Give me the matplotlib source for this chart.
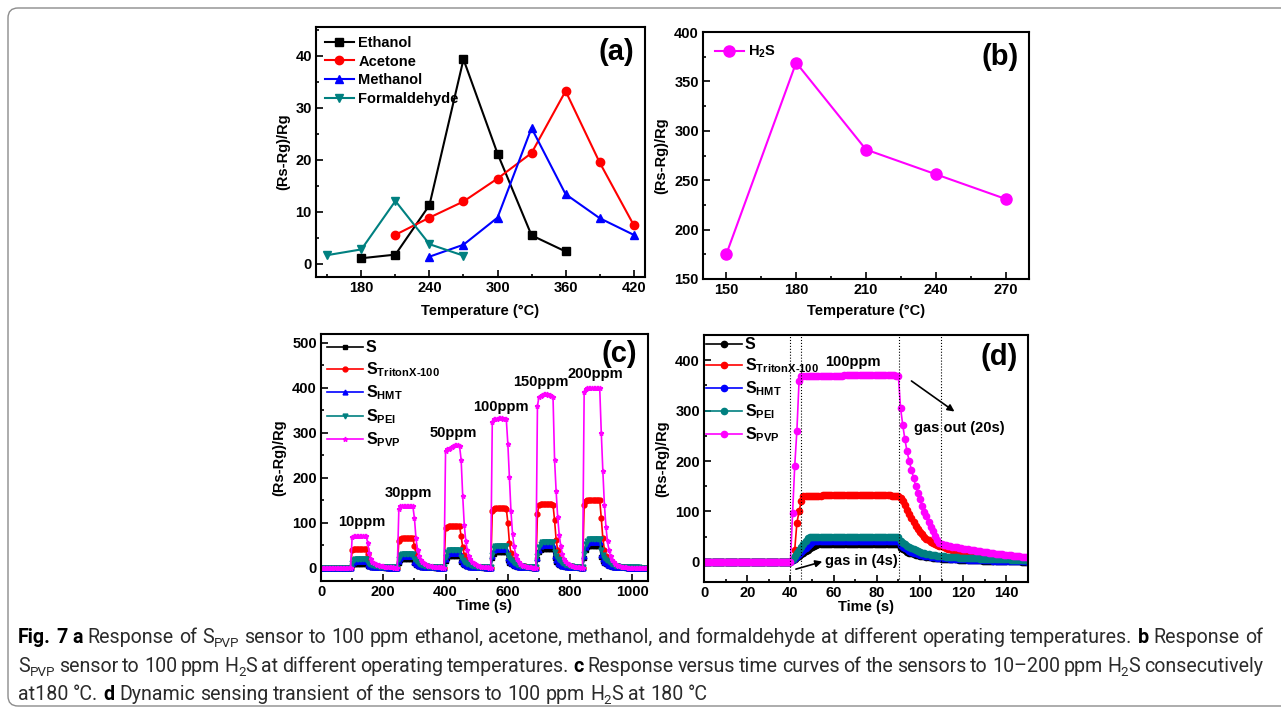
import numpy as np
import matplotlib
matplotlib.use("Agg")
import matplotlib.pyplot as plt
from matplotlib.patches import FancyBboxPatch
from matplotlib.ticker import MultipleLocator

# ---------------- data ----------------
# (a) response vs operating temperature
temp_ethanol = [180, 210, 240, 270, 300, 330, 360]
ethanol = [1.1, 1.8, 11.3, 39.3, 21.2, 5.5, 2.4]
temp_acetone = [210, 240, 270, 300, 330, 360, 390, 420]
acetone = [5.6, 8.9, 12.0, 16.4, 21.3, 33.2, 19.5, 7.5]
temp_methanol = [240, 270, 300, 330, 360, 390, 420]
methanol = [1.4, 3.7, 8.9, 26.1, 13.4, 8.8, 5.6]
temp_formaldehyde = [150, 180, 210, 240, 270]
formaldehyde = [1.7, 2.8, 12.1, 3.8, 1.6]

# (b) H2S response vs temperature
temp_h2s = [150, 180, 210, 240, 270]
h2s = [175, 369, 281, 256, 231]

# (c) response vs time, 10-200 ppm H2S (sampled every 5 s)
time_c = np.arange(0, 1051, 5)
ppm_labels = ["10ppm", "30ppm", "50ppm", "100ppm", "150ppm", "200ppm"]
ppm_label_x = [131, 280, 425, 579, 706, 880]
ppm_label_y = [102, 167, 299, 357, 414, 430]

pvp_c = ([0] * 20
         + [68, 70, 70, 70, 70, 70, 70, 70, 70, 70]
         + [55, 32, 18, 13, 10, 8, 6, 5, 4, 3, 2.5, 2, 1.5, 1, 1, 0.5, 0.5, 0, 0, 0]
         + [130, 137, 138, 138, 138, 138, 138, 138, 137, 136]
         + [110, 65, 38, 25, 17, 12, 9, 7, 5, 4, 3, 2.5, 2, 1.5, 1, 1, 0.5, 0.5, 0, 0]
         + [260, 263, 265, 267, 269, 271, 272, 273, 272, 270]
         + [240, 160, 95, 58, 38, 26, 18, 13, 10, 7, 5, 4, 3, 2, 1.5, 1, 1, 0.5, 0, 0]
         + [325, 330, 331, 331, 332, 332, 332, 331, 331, 330]
         + [275, 202, 125, 75, 48, 28, 18, 12, 8, 6, 4, 3, 2, 1.5, 1, 0.5, 0, 0, 0]
         + [360, 380, 383, 385, 386, 386, 386, 385, 384, 382, 380]
         + [240, 170, 112, 72, 48, 30, 20, 14, 9, 7, 5, 4, 3, 2, 1.5, 1, 0.5, 0, 0]
         + [390, 398, 399, 399, 399, 399, 399, 399, 399, 399, 399]
         + [300, 215, 140, 90, 58, 38, 25, 17, 12, 8, 6, 4, 3, 2, 1.5, 1, 0.5] + [0] * 14)

triton_c = ([0] * 20
            + [38, 42, 42, 42, 42, 42, 42, 42, 42, 42]
            + [30, 18, 11, 7, 5, 4, 3, 2, 1.5, 1, 1, 0.5, 0.5] + [0] * 7
            + [60, 64, 65, 65, 66, 66, 66, 66, 66, 65]
            + [48, 30, 19, 13, 9, 6, 5, 4, 3, 2, 1.5, 1, 1, 0.5, 0.5] + [0] * 5
            + [88, 91, 92, 92, 93, 93, 93, 93, 92, 92]
            + [70, 45, 28, 18, 12, 8, 6, 4.5, 3.5, 2.5, 2, 1.5, 1, 1, 0.5, 0.5] + [0] * 4
            + [125, 131, 132, 133, 133, 133, 133, 132, 132, 131]
            + [100, 55, 32, 20, 14, 10, 8, 6, 5, 4, 3, 2.5, 2, 1.5, 1, 1, 0.5, 0, 0]
            + [120, 140, 141, 142, 142, 142, 142, 142, 142, 141, 140]
            + [105, 62, 38, 24, 16, 11, 8, 6, 5, 4, 3, 2.5, 2, 1.5, 1, 1, 0.5, 0, 0]
            + [140, 149, 150, 150, 151, 151, 151, 151, 150, 150, 150]
            + [110, 65, 40, 25, 17, 12, 9, 7, 5, 4, 3, 2.5, 2, 1.5, 1, 1, 0.5] + [0] * 14)

pei_c = ([0] * 20
         + [11, 16, 18, 18, 18, 18, 18, 18, 18, 18]
         + [11, 8, 6.3, 5, 4, 3.2, 2.5, 2, 1.6, 1.3, 1, 0.8, 0.6, 0.5, 0.4, 0.3, 0.2, 0.2, 0.1, 0]
         + [18, 27, 30, 30, 30, 30, 30, 30, 30, 30]
         + [18, 13.5, 10.5, 8.4, 6.6, 5.4, 4.2, 3.3, 2.7, 2.1, 1.6, 1.3, 1, 0.8, 0.6, 0.5, 0.4, 0.3, 0.2, 0.1]
         + [23, 34, 38, 38, 38, 38, 38, 38, 38, 38]
         + [23, 17, 13, 10.6, 8.4, 6.8, 5.3, 4.2, 3.4, 2.7, 2.1, 1.7, 1.3, 1, 0.8, 0.6, 0.5, 0.4, 0.3, 0.2]
         + [29, 43, 48, 48, 48, 48, 48, 48, 48, 48]
         + [29, 22, 17, 13.4, 10.6, 8.6, 6.7, 5.3, 4.3, 3.4, 2.6, 2, 1.6, 1.2, 1, 0.8, 0.6, 0.4, 0.3]
         + [25, 45, 53, 56, 56, 56, 56, 56, 56, 56, 56]
         + [34, 25, 20, 15.7, 12.3, 10, 7.8, 6.2, 5, 4, 3, 2.4, 1.8, 1.4, 1.1, 0.9, 0.7, 0.5, 0.3]
         + [30, 52, 60, 63, 63, 63, 63, 63, 63, 63, 63]
         + [38, 28, 22, 17.6, 13.9, 11.3, 8.8, 7, 5.7, 4.4, 3.5, 2.8, 2.2, 1.7, 1.3, 1, 0.8,
            0.6, 0.5, 0.4, 0.3, 0.2, 0.2, 0.1, 0.1] + [0] * 6)

hmt_c = ([0] * 20
         + [8, 12, 14, 14, 14, 14, 14, 14, 14, 14]
         + [7, 4.5, 3, 2.2, 1.6, 1.2, 0.9, 0.7, 0.5, 0.4, 0.3, 0.2, 0.1] + [0] * 7
         + [15, 22, 25, 25, 25, 25, 25, 25, 25, 25]
         + [13, 8, 5.5, 4, 3, 2.2, 1.6, 1.2, 0.9, 0.7, 0.5, 0.4, 0.3, 0.2, 0.1] + [0] * 5
         + [19, 29, 32, 32, 32, 32, 32, 32, 32, 32]
         + [17, 10.5, 7, 5, 3.8, 2.8, 2, 1.5, 1.1, 0.8, 0.6, 0.5, 0.4, 0.3, 0.2, 0.1] + [0] * 4
         + [25, 38, 42, 42, 42, 42, 42, 42, 42, 42]
         + [22, 14, 9.5, 7, 5, 3.7, 2.7, 2, 1.5, 1.1, 0.8, 0.6, 0.5, 0.4, 0.3, 0.2, 0.1] + [0] * 2
         + [22, 40, 47, 50, 50, 50, 50, 50, 50, 50, 50]
         + [26, 16.5, 11, 8, 6, 4.4, 3.2, 2.4, 1.8, 1.3, 1, 0.7, 0.5, 0.4, 0.3, 0.2, 0.1] + [0] * 2
         + [25, 46, 53, 56, 56, 56, 56, 56, 56, 56, 56]
         + [29, 18.5, 12.5, 9, 6.7, 5, 3.6, 2.7, 2, 1.5, 1.1, 0.8, 0.6, 0.4, 0.3, 0.2, 0.1] + [0] * 14)

s_c = ([0] * 20
       + [5, 7, 8, 8, 8, 8, 8, 8, 8, 8]
       + [4, 2.5, 1.7, 1.2, 0.9, 0.7, 0.5, 0.4, 0.3, 0.2, 0.1] + [0] * 9
       + [11, 16, 18, 18, 18, 18, 18, 18, 18, 18]
       + [9, 5.5, 3.7, 2.6, 1.9, 1.4, 1, 0.8, 0.6, 0.4, 0.3, 0.2, 0.1] + [0] * 7
       + [15, 22, 25, 25, 25, 25, 25, 25, 25, 25]
       + [12.5, 7.5, 5, 3.6, 2.7, 2, 1.5, 1.1, 0.8, 0.6, 0.4, 0.3, 0.2, 0.1] + [0] * 6
       + [21, 31, 35, 35, 35, 35, 35, 35, 35, 35]
       + [17.5, 10.5, 7, 5, 3.7, 2.7, 2, 1.5, 1.1, 0.8, 0.6, 0.4, 0.3, 0.2, 0.1] + [0] * 4
       + [18, 34, 40, 42, 42, 42, 42, 42, 42, 42, 42]
       + [21, 12.5, 8.4, 6, 4.4, 3.2, 2.4, 1.8, 1.3, 1, 0.7, 0.5, 0.4, 0.3, 0.2, 0.1] + [0] * 3
       + [21, 40, 46, 48, 48, 48, 48, 48, 48, 48, 48]
       + [24, 14.5, 9.6, 7, 5, 3.7, 2.7, 2, 1.5, 1.1, 0.8, 0.6, 0.4, 0.3, 0.2, 0.1] + [0] * 15)

# (d) dynamic transient at 100 ppm (sampled every 1 s)
time_d = np.arange(0, 151)
gas_marks = [40, 44.7, 90.5, 109.5]

pvp_d = ([0] * 41 + [97, 190, 260, 358]
         + [368] * 10 + [369] * 10 + [370] * 20 + [370, 370, 370, 370, 369, 368]
         + [305, 272, 243, 219, 200, 183, 167, 150, 137, 124, 110, 98, 90, 80, 70, 61, 51, 44, 38, 35]
         + [34, 33, 32, 31, 30, 29, 28.5, 28, 27, 26, 25.5, 25, 24, 23.5, 23, 22, 21.5, 21, 20.5, 20,
            19, 18.5, 18, 17, 16.5, 16, 15.5, 15, 14.5, 14, 13.5, 13, 12.5, 12, 11.5, 11, 10.5, 10, 9.5, 9])

triton_d = ([0] * 41 + [3, 24, 77, 100, 120, 130]
            + [131] * 8 + [132] * 10 + [133] * 10 + [132] * 10 + [132, 132, 131, 131, 131, 130]
            + [127, 120, 112, 103, 95, 87, 79, 72, 66, 60, 55, 50, 46, 43, 40, 38, 36, 34, 32, 31]
            + [29, 27.5, 26, 25, 24, 23, 22, 21, 20, 19, 18, 17.3, 16.6, 16, 15.3, 14.7, 14, 13.4, 12.8, 12.2,
               11.7, 11.2, 10.7, 10.2, 9.8, 9.4, 9, 8.6, 8.2, 7.9, 7.6, 7.3, 7, 6.7, 6.4, 6.1, 5.9, 5.7, 5.5, 5.3])

pei_d = ([0] * 41 + [6, 12, 18, 24, 30, 36, 42, 47, 50] + [50] * 41
         + [42, 38, 35, 32, 29.5, 27, 25, 23, 21.5, 20, 18.5, 17.3, 16.2, 15.2, 14.3, 13.5, 12.8, 12.1, 11.5, 11]
         + [10.6, 10.2, 9.9, 9.6, 9.3, 9, 8.7, 8.5, 8.3, 8.1, 7.9, 7.7, 7.5, 7.3, 7.1, 6.9, 6.8, 6.6, 6.4, 6.3,
            6.1, 6, 5.8, 5.7, 5.5, 5.4, 5.2, 5.1, 5, 4.9, 4.8, 4.6, 4.5, 4.4, 4.3, 4.2, 4.1, 4, 3.9, 3.8])

hmt_d = ([0] * 41 + [4, 8, 12, 16, 20, 24, 28, 32, 36, 39, 42] + [42] * 39
         + [34, 30, 27, 24.5, 22, 20, 18.3, 16.8, 15.4, 14.2, 13.1, 12.2, 11.4, 10.7, 10, 9.4, 8.9, 8.4, 8, 7.6]
         + [7.3, 7, 6.7, 6.4, 6.1, 5.9, 5.6, 5.4, 5.2, 5, 4.8, 4.6, 4.4, 4.2, 4, 3.8, 3.6, 3.5, 3.3, 3.1,
            3, 2.8, 2.7, 2.5, 2.4, 2.2, 2.1, 2, 1.8, 1.7, 1.6, 1.5, 1.3, 1.2, 1.1, 1, 0.9, 0.8, 0.7, 0.6])

s_d = ([0] * 41 + [3, 6, 9, 12, 15, 18, 21, 24, 27, 30, 32, 34, 35] + [35] * 37
       + [28, 25, 22.5, 20.3, 18.5, 17, 15.6, 14.4, 13.3, 12.3, 11.4, 10.6, 9.9, 9.3, 8.7, 8.2, 7.7, 7.3, 6.9, 6.5]
       + [6.2, 5.9, 5.6, 5.3, 5.1, 4.9, 4.7, 4.5, 4.3, 4.1, 3.9, 3.7, 3.5, 3.3, 3.2, 3, 2.9, 2.7, 2.6, 2.4,
          2.3, 2.2, 2, 1.9, 1.8, 1.7, 1.6, 1.5, 1.4, 1.3, 1.2, 1.1, 1, 0.9, 0.8, 0.7, 0.6, 0.5, 0.4, 0.3])

sensor_labels = ["S", r"S$_{TritonX\text{-}100}$", r"S$_{HMT}$", r"S$_{PEI}$", r"S$_{PVP}$"]
sensor_colors = ["black", "#ff0000", "#0000ff", "#008080", "#ff00ff"]

# ---------------- style ----------------
plt.rcParams["font.family"] = ["Liberation Sans", "DejaVu Sans"]
plt.rcParams["font.weight"] = "bold"
plt.rcParams["axes.labelweight"] = "bold"
plt.rcParams["mathtext.fontset"] = "custom"
plt.rcParams["mathtext.rm"] = "Liberation Sans:bold"
plt.rcParams["mathtext.it"] = "Liberation Sans:bold"
plt.rcParams["mathtext.bf"] = "Liberation Sans:bold"
plt.rcParams["axes.linewidth"] = 1.5

W, H = 1281, 713
fig = plt.figure(figsize=(W / 100, H / 100), dpi=100)


def make_axes(left, top, right, bottom):
    return fig.add_axes([left / W, 1 - bottom / H, (right - left) / W, (bottom - top) / H])


def style(ax, xmaj, xmin, ymaj, ymin):
    ax.xaxis.set_major_locator(MultipleLocator(xmaj))
    ax.xaxis.set_minor_locator(MultipleLocator(xmin))
    ax.yaxis.set_major_locator(MultipleLocator(ymaj))
    ax.yaxis.set_minor_locator(MultipleLocator(ymin))
    ax.tick_params(which="both", direction="in", width=1.2, labelsize=10.5, pad=3)
    ax.tick_params(which="major", length=5)
    ax.tick_params(which="minor", length=2.5)


# (a)
ax_a = make_axes(316, 27, 645, 277)
ax_a.plot(temp_ethanol, ethanol, "-s", color="black", lw=1.5, ms=6, label="Ethanol")
ax_a.plot(temp_acetone, acetone, "-o", color="#ff0000", lw=1.5, ms=6, label="Acetone")
ax_a.plot(temp_methanol, methanol, "-^", color="#0000ff", lw=1.5, ms=6, label="Methanol")
ax_a.plot(temp_formaldehyde, formaldehyde, "-v", color="#008080", lw=1.5, ms=6, label="Formaldehyde")
ax_a.set_xlim(140, 430)
ax_a.set_ylim(-2.5, 45.5)
style(ax_a, 60, 30, 10, 5)
ax_a.set_xlabel("Temperature (\u00b0C)", fontsize=10.5, labelpad=6)
ax_a.set_ylabel("(Rs-Rg)/Rg", fontsize=10.5)
ax_a.legend(loc="upper left", frameon=False, fontsize=10.5, handlelength=2.0,
            handletextpad=0.3, labelspacing=0.33, borderaxespad=0.3, borderpad=0.3)
ax_a.text(0.914, 0.9, "(a)", transform=ax_a.transAxes, fontsize=21, ha="center", va="center")

# (b)
ax_b = make_axes(703, 32, 1029, 279)
ax_b.plot(temp_h2s, h2s, "-o", color="#ff00ff", lw=1.5, ms=8, label="H$_2$S")
ax_b.set_xlim(140, 280)
ax_b.set_ylim(150, 400)
style(ax_b, 30, 15, 50, 25)
ax_b.set_xlabel("Temperature (\u00b0C)", fontsize=10.5, labelpad=5)
ax_b.set_ylabel("(Rs-Rg)/Rg", fontsize=10.5)
ax_b.legend(loc="upper left", frameon=False, fontsize=10.5, handlelength=2.0,
            handletextpad=0.3, borderaxespad=0.4, borderpad=0.4)
ax_b.text(0.911, 0.9, "(b)", transform=ax_b.transAxes, fontsize=21, ha="center", va="center")

# (c)
ax_c = make_axes(321, 334, 648, 581)
c_series = [s_c, triton_c, hmt_c, pei_c, pvp_c]
c_markers = ["s", "o", "^", "v", "*"]
for ys, lab, col, mk in zip(c_series, sensor_labels, sensor_colors, c_markers):
    ax_c.plot(time_c, ys, "-", marker=mk, color=col, lw=1.2, ms=3.5, label=lab)
for lab, x, y in zip(ppm_labels, ppm_label_x, ppm_label_y):
    ax_c.text(x, y, lab, fontsize=10.5, ha="center", va="center")
ax_c.set_xlim(0, 1050)
ax_c.set_ylim(-30, 520)
style(ax_c, 200, 100, 100, 50)
ax_c.set_xlabel("Time (s)", fontsize=10.5, labelpad=0)
ax_c.set_ylabel("(Rs-Rg)/Rg", fontsize=10.5)
ax_c.legend(loc="upper left", frameon=False, fontsize=11.5, handlelength=2.2,
            handletextpad=0.2, labelspacing=0.3, borderaxespad=0.1, borderpad=0.3)
ax_c.text(0.912, 0.918, "(c)", transform=ax_c.transAxes, fontsize=21, ha="center", va="center")

# (d)
ax_d = make_axes(704, 335, 1028, 582)
d_series = [s_d, triton_d, hmt_d, pei_d, pvp_d]
for ys, lab, col in zip(d_series, sensor_labels, sensor_colors):
    ax_d.plot(time_d, ys, "-o", color=col, lw=1.2, ms=4.5, label=lab)
for xm in gas_marks:
    ax_d.axvline(xm, color="black", lw=0.8, ls=":")
ax_d.text(69, 397, "100ppm", fontsize=10.5, ha="center", va="center")
ax_d.text(118, 265, "gas out (20s)", fontsize=10.5, ha="center", va="center")
ax_d.text(73, 2, "gas in (4s)", fontsize=10.5, ha="center", va="center")
ax_d.annotate("", xy=(117, 295), xytext=(95, 362),
              arrowprops=dict(arrowstyle="-|>", color="black", lw=1.2))
ax_d.annotate("", xy=(56, 2), xytext=(41.3, -16),
              arrowprops=dict(arrowstyle="-|>", color="black", lw=1.2))
ax_d.set_xlim(0, 150)
ax_d.set_ylim(-40, 450)
style(ax_d, 20, 10, 100, 50)
ax_d.set_xlabel("Time (s)", fontsize=10.5, labelpad=0)
ax_d.set_ylabel("(Rs-Rg)/Rg", fontsize=10.5)
ax_d.legend(loc="upper left", frameon=False, fontsize=11.5, handlelength=2.2,
            handletextpad=0.2, labelspacing=0.27, borderaxespad=0.0, borderpad=0.15)
ax_d.text(0.911, 0.912, "(d)", transform=ax_d.transAxes, fontsize=21, ha="center", va="center")

# ---------------- frame and caption ----------------
frame = FancyBboxPatch((8, 7), 1320, 698, boxstyle="round,pad=0,rounding_size=10",
                       transform=None, fill=False, edgecolor="#8c8c8c", lw=1.0, clip_on=False)
fig.patches.append(frame)

cap_family = ["Roboto", "DejaVu Sans"]
renderer = fig.canvas.get_renderer()

line1 = [("Fig. 7", "b"), (" ", "n"), ("a", "b"), (" Response of S", "n"), ("PVP", "s"),
         (" sensor to 100 ppm ethanol, acetone, methanol, and formaldehyde at different "
          "operating temperatures. ", "n"), ("b", "b"), (" Response of", "n")]
line2 = [("S", "n"), ("PVP", "s"), (" sensor to 100 ppm H", "n"), ("2", "s"),
         ("S at different operating temperatures. ", "n"), ("c", "b"),
         (" Response versus time curves of the sensors to 10\u2013200 ppm H", "n"), ("2", "s"),
         ("S consecutively", "n")]
line3 = [("at180 \u00b0C. ", "n"), ("d", "b"),
         (" Dynamic sensing transient of the sensors to 100 ppm H", "n"), ("2", "s"),
         ("S at 180 \u00b0C", "n")]


def to_words(runs):
    words = [[]]
    for txt, kind in runs:
        for i, part in enumerate(txt.split(" ")):
            if i > 0:
                words.append([])
            if part:
                words[-1].append((part, kind))
    return [w for w in words if w]


def piece_kw(kind, size):
    kw = dict(fontsize=size, family=cap_family, color="#2b2b2b", fontweight="normal")
    if kind == "b":
        kw.update(fontweight="bold", color="black")
    elif kind == "s":
        kw["fontsize"] = size * 0.68
    return kw


def text_width(txt, kw):
    t = fig.text(0, 0, txt, **kw)
    w = t.get_window_extent(renderer=renderer).width
    t.remove()
    return w


def word_widths(words, size):
    return [[text_width(p, piece_kw(k, size)) for p, k in w] for w in words]


def natural_width(runs, size):
    words = to_words(runs)
    ww = word_widths(words, size)
    space = text_width("x x", piece_kw("n", size)) - text_width("xx", piece_kw("n", size))
    return sum(sum(w) for w in ww) + space * (len(words) - 1)


x_left, x_right = 18, 1263
cap_size = 10 * (x_right - x_left) / natural_width(line1, 10)


def caption_line(base_px, runs, justify):
    words = to_words(runs)
    ww = word_widths(words, cap_size)
    space = text_width("x x", piece_kw("n", cap_size)) - text_width("xx", piece_kw("n", cap_size))
    if justify:
        gap = (x_right - x_left - sum(sum(w) for w in ww)) / (len(words) - 1)
    else:
        gap = space
    x = x_left
    for word, widths in zip(words, ww):
        for (p, k), w in zip(word, widths):
            y = base_px + (4 if k == "s" else 0)
            fig.text(x / W, 1 - y / H, p, ha="left", va="baseline", **piece_kw(k, cap_size))
            x += w
        x += gap


caption_line(643, line1, True)
caption_line(672, line2, True)
caption_line(700.5, line3, False)

fig.savefig("out.png", dpi=100)
